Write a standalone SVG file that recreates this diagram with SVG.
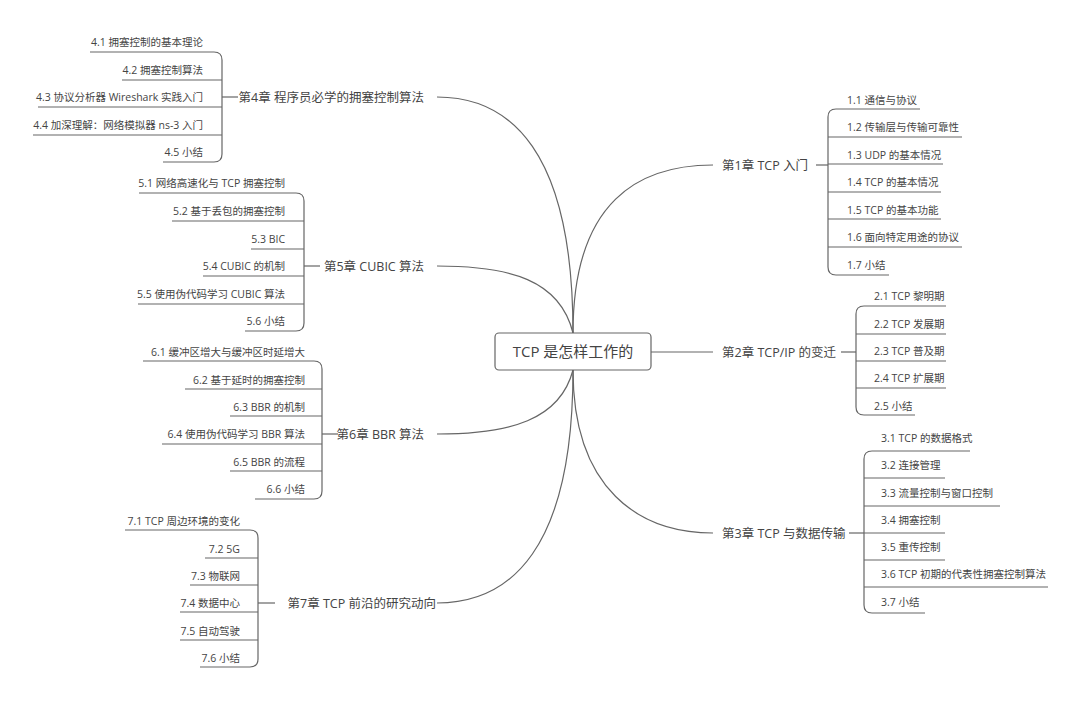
<svg xmlns="http://www.w3.org/2000/svg" width="1080" height="703" viewBox="0 0 1080 703">
<style>
text{font-family:"Open Sans","Noto Sans CJK SC",sans-serif;fill:#444}
.c{font-size:10.5px}
.h{font-size:12.5px}
.l{stroke:#666;stroke-width:1.2;fill:none}
.r{text-anchor:end}
</style>
<rect width="1080" height="703" fill="#fff"/>
<g id="connectors" class="l">
<path d="M573 333 C573 200 640 165 713 165"/>
<path d="M651 352 L713 352"/>
<path d="M573 370 C573 490 640 533 713 533"/>
<path d="M573 333 C573 150 510 97 437 97"/>
<path d="M573 333 C560 280 510 266 437 266"/>
<path d="M573 370 C560 420 510 434 437 434"/>
<path d="M573 370 C573 550 510 603 437 603"/>
</g>
<g id="root"><rect x="495" y="333" width="156" height="37" rx="4" fill="#fff" stroke="#666" stroke-width="1.2"/><text x="573" y="357" text-anchor="middle" style="font-size:15px">TCP 是怎样工作的</text></g>

<g id="ch1"><text class="h" x="722" y="170">第1章 TCP 入门</text>
<g class="l"><path d="M816 165H828"/><path d="M920 109H836Q828 109 828 117V267Q828 275 836 275H889"/><path d="M828 137H962M828 164H943M828 192H941M828 219H941M828 247H962"/></g>
<text class="c" x="847" y="104">1.1 通信与协议</text><text class="c" x="847" y="131">1.2 传输层与传输可靠性</text><text class="c" x="847" y="159">1.3 UDP 的基本情况</text><text class="c" x="847" y="186">1.4 TCP 的基本情况</text><text class="c" x="847" y="214">1.5 TCP 的基本功能</text><text class="c" x="847" y="241">1.6 面向特定用途的协议</text><text class="c" x="847" y="269">1.7 小结</text></g>

<g id="ch2"><text class="h" x="722" y="357">第2章 TCP/IP 的变迁</text>
<g class="l"><path d="M841 352H856"/><path d="M946 306H864Q856 306 856 314V407Q856 415 864 415H915"/><path d="M856 334H946M856 361H946M856 388H946"/></g>
<text class="c" x="874" y="300">2.1 TCP 黎明期</text><text class="c" x="874" y="328">2.2 TCP 发展期</text><text class="c" x="874" y="355">2.3 TCP 普及期</text><text class="c" x="874" y="382">2.4 TCP 扩展期</text><text class="c" x="874" y="410">2.5 小结</text></g>

<g id="ch3"><text class="h" x="722" y="538">第3章 TCP 与数据传输</text>
<g class="l"><path d="M849 533H864"/><path d="M970 451H872Q864 451 864 459V605Q864 613 872 613H925"/><path d="M864 478H945M864 506H1000M864 533H945M864 560H945M864 587H1048"/></g>
<text class="c" x="881" y="442">3.1 TCP 的数据格式</text><text class="c" x="881" y="469">3.2 连接管理</text><text class="c" x="881" y="497">3.3 流量控制与窗口控制</text><text class="c" x="881" y="524">3.4 拥塞控制</text><text class="c" x="881" y="551">3.5 重传控制</text><text class="c" x="881" y="578">3.6 TCP 初期的代表性拥塞控制算法</text><text class="c" x="881" y="606">3.7 小结</text></g>

<g id="ch4"><text class="h r" x="424" y="102">第4章 程序员必学的拥塞控制算法</text>
<g class="l"><path d="M222 97H238"/><path d="M90 52H214Q222 52 222 60V154Q222 162 214 162H163"/><path d="M122 80H222M38 107H222M33 135H222"/></g>
<g class="r"><text class="c r" x="203" y="46">4.1 拥塞控制的基本理论</text><text class="c r" x="203" y="74">4.2 拥塞控制算法</text><text class="c r" x="203" y="101">4.3 协议分析器 Wireshark 实践入门</text><text class="c r" x="203" y="129">4.4 加深理解：网络模拟器 ns-3 入门</text><text class="c r" x="203" y="156">4.5 小结</text></g></g>

<g id="ch5"><text class="h r" x="424" y="271">第5章 CUBIC 算法</text>
<g class="l"><path d="M304 266H320"/><path d="M139 193H296Q304 193 304 201V323Q304 331 296 331H245"/><path d="M172 221H304M251 249H304M203 276H304M138 304H304"/></g>
<text class="c r" x="285" y="187">5.1 网络高速化与 TCP 拥塞控制</text><text class="c r" x="285" y="215">5.2 基于丢包的拥塞控制</text><text class="c r" x="285" y="243">5.3 BIC</text><text class="c r" x="285" y="270">5.4 CUBIC 的机制</text><text class="c r" x="285" y="298">5.5 使用伪代码学习 CUBIC 算法</text><text class="c r" x="285" y="325">5.6 小结</text></g>

<g id="ch6"><text class="h r" x="424" y="439">第6章 BBR 算法</text>
<g class="l"><path d="M322 434H338"/><path d="M143 361H314Q322 361 322 369V491Q322 499 314 499H255"/><path d="M185 389H322M230 416H322M162 444H322M230 471H322"/></g>
<text class="c r" x="305" y="356">6.1 缓冲区增大与缓冲区时延增大</text><text class="c r" x="305" y="384">6.2 基于延时的拥塞控制</text><text class="c r" x="305" y="411">6.3 BBR 的机制</text><text class="c r" x="305" y="438">6.4 使用伪代码学习 BBR 算法</text><text class="c r" x="305" y="466">6.5 BBR 的流程</text><text class="c r" x="305" y="493">6.6 小结</text></g>

<g id="ch7"><text class="h r" x="436" y="608">第7章 TCP 前沿的研究动向</text>
<g class="l"><path d="M258 603H275"/><path d="M125 530H250Q258 530 258 538V659Q258 667 250 667H200"/><path d="M205 558H258M190 585H258M180 612H258M180 640H258"/></g>
<text class="c r" x="240" y="525">7.1 TCP 周边环境的变化</text><text class="c r" x="240" y="553">7.2 5G</text><text class="c r" x="240" y="580">7.3 物联网</text><text class="c r" x="240" y="607">7.4 数据中心</text><text class="c r" x="240" y="635">7.5 自动驾驶</text><text class="c r" x="240" y="662">7.6 小结</text></g>
</svg>
